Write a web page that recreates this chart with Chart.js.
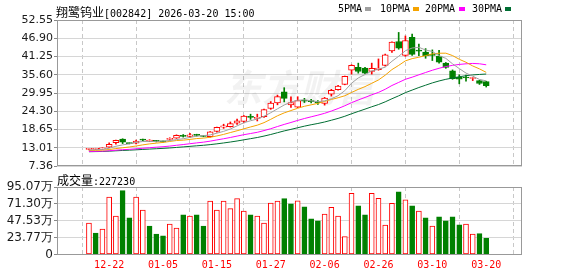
<!DOCTYPE html>
<html>
<head>
<meta charset="utf-8">
<script src="https://cdn.jsdelivr.net/npm/chart.js@4.4.1/dist/chart.umd.min.js"></script>
<style>
body { margin: 0; background: #fff; width: 578px; height: 276px; position: relative; overflow: hidden; }
canvas { position: absolute; left: 0; }
#kline { top: 0; }
#vol { top: 170px; }
.txt { position: absolute; white-space: nowrap; color: #000; z-index: 2; line-height: 12px; }
.cjk { font: 12px "Noto Sans CJK SC"; }
.mono { font: 10px "DejaVu Sans Mono"; }
.sq { position: absolute; width: 6px; height: 4px; top: 7px; z-index: 2; }
</style>
</head>
<body>
<div class="txt" style="left:56px;top:3px"><span class="cjk">翔鹭钨业</span><span class="mono">[002842] 2026-03-20 15:00</span></div>
<div class="txt mono" style="left:338px;top:3px">5PMA</div><div class="sq" style="left:365px;background:#a0a0a0"></div>
<div class="txt mono" style="left:380px;top:3px">10PMA</div><div class="sq" style="left:413px;background:#f5a300"></div>
<div class="txt mono" style="left:425px;top:3px">20PMA</div><div class="sq" style="left:459px;background:#ff00ff"></div>
<div class="txt mono" style="left:472px;top:3px">30PMA</div><div class="sq" style="left:505px;background:#006e33"></div>
<div class="txt" style="left:57px;top:171px"><span class="cjk">成交量</span><span class="mono">:227230</span></div>
<canvas id="kline" width="578" height="176"></canvas>
<canvas id="vol" width="578" height="106"></canvas>
<script>
// 日K数据 (60个交易日)
const dates = ['12-17','12-18','12-19','12-22','12-23','12-24','12-25','12-26','12-29','12-30',
    '12-31','01-05','01-06','01-07','01-08','01-09','01-12','01-13','01-14','01-15',
    '01-16','01-19','01-20','01-21','01-22','01-23','01-26','01-27','01-28','01-29',
    '01-30','02-02','02-03','02-04','02-05','02-06','02-09','02-10','02-11','02-12',
    '02-13','02-24','02-25','02-26','02-27','03-02','03-03','03-04','03-05','03-06',
    '03-09','03-10','03-11','03-12','03-13','03-16','03-17','03-18','03-19','03-20'];
const opens = [12.5,12.5,12.65,13.2,14.55,15.7,14.4,14.45,15.45,15.1,
    15.1,14.95,15.6,16.0,16.7,16.55,17.0,16.6,16.4,18.1,
    19.4,19.5,20.6,21.15,22.7,22.1,22.6,25.15,26.9,30.3,
    26.3,25.6,27.7,27.55,27.1,26.7,29.6,31.0,32.6,37.0,
    37.9,37.7,36.65,37.2,38.5,43.0,45.9,41.6,47.2,43.1,
    42.6,41.85,41.4,39.2,36.8,34.9,34.75,34.45,33.8,33.5];
const highs = [12.8,12.85,13.0,14.55,15.4,15.8,14.5,15.4,15.7,15.5,
    15.3,15.05,16.1,17.0,17.1,17.45,17.2,16.7,18.0,19.4,
    20.3,21.0,21.9,23.0,23.4,23.4,25.0,27.3,29.3,31.6,
    28.8,28.8,28.3,28.0,27.6,28.6,31.1,32.3,35.2,38.7,
    39.2,37.9,39.2,40.5,42.0,45.8,48.7,47.6,48.2,45.1,
    43.7,43.3,43.2,39.4,37.1,35.6,35.5,34.7,33.9,33.6];
const lows = [12.35,12.4,12.5,13.1,14.15,14.3,14.2,14.2,15.2,14.9,
    14.8,14.75,15.3,15.9,16.3,16.2,16.6,16.4,16.3,17.8,
    19.0,19.4,20.2,20.7,21.8,21.3,22.4,24.9,26.3,27.2,
    25.5,25.4,27.0,26.9,26.4,26.2,29.0,30.8,32.5,35.8,
    36.1,35.9,35.8,37.0,38.3,42.5,43.5,41.3,41.6,41.5,
    40.7,40.0,39.2,37.6,34.2,32.8,33.6,33.8,32.6,31.8];
const closes = [12.6,12.58,12.75,14.1,15.3,14.7,14.3,15.05,15.35,15.2,
    15.0,14.85,15.75,16.85,16.55,17.0,16.85,16.5,17.95,19.3,
    19.8,20.5,21.35,22.8,22.4,22.45,24.8,26.8,28.85,28.3,
    27.0,27.6,27.45,27.3,26.95,28.4,30.8,32.1,35.1,38.5,
    36.6,36.1,37.6,37.7,41.8,45.7,43.8,46.2,41.9,42.9,
    41.5,41.6,39.5,37.9,34.4,34.2,34.6,34.65,32.9,32.2];
// 成交量 (万)
const volumes = [44.2,30.1,35.8,80.9,54.1,89.9,51.8,80.9,62.6,40.0,
    28.7,26.4,42.8,37.2,56.0,54.1,56.0,40.0,75.3,62.6,
    75.3,64.5,78.6,61.2,56.0,54.1,44.2,72.5,75.3,78.6,
    71.5,75.5,67.1,50.3,47.5,56.9,66.6,54.1,25.2,86.2,
    68.5,55.9,86.2,79.2,41.5,72.2,88.1,76.9,68.5,61.0,
    51.7,40.1,53.1,47.5,53.1,41.9,42.9,28.9,29.4,22.72];
const ma5 = [12.3,12.4,12.5,12.85,13.47,13.89,14.22,14.69,14.94,14.92,
    14.98,15.09,15.23,15.53,15.8,16.2,16.6,16.75,16.97,17.52,
    18.08,18.81,19.78,20.75,21.37,21.9,22.76,23.85,25.06,26.24,
    27.15,27.71,27.84,27.53,27.26,27.54,28.18,29.11,30.67,32.98,
    34.62,35.68,36.78,37.3,37.96,39.78,41.32,43.04,43.88,44.1,
    43.26,42.82,41.48,40.68,38.98,37.52,36.12,35.15,34.15,33.71];
const ma10 = [12.15,12.2,12.28,12.45,12.75,13.0,13.25,13.55,13.9,14.2,
    14.44,14.66,14.96,15.24,15.36,15.59,15.85,15.99,16.25,16.66,
    17.14,17.71,18.27,18.86,19.45,20.0,20.78,21.81,22.9,23.8,
    24.52,25.23,25.84,26.29,26.75,27.35,27.95,28.48,29.1,30.12,
    31.08,31.93,32.95,33.99,35.47,37.2,38.5,39.91,40.59,41.03,
    41.52,42.07,42.26,42.28,41.54,40.39,39.47,38.32,37.42,36.35];
const ma20 = [11.85,11.9,11.95,12.07,12.25,12.4,12.52,12.68,12.85,13.02,
    13.18,13.33,13.52,13.77,14.0,14.26,14.51,14.74,15.05,15.43,
    15.79,16.19,16.62,17.05,17.41,17.79,18.32,18.9,19.58,20.23,
    20.83,21.47,22.06,22.58,23.1,23.67,24.37,25.15,26.0,26.96,
    27.8,28.58,29.4,30.14,31.11,32.28,33.23,34.2,34.85,35.58,
    36.3,37.0,37.61,38.14,38.51,38.8,38.99,39.11,39.0,38.68];
const ma30 = [11.78,11.82,11.86,11.95,12.07,12.17,12.26,12.37,12.49,12.6,
    12.71,12.82,12.95,13.11,13.27,13.44,13.61,13.77,13.98,14.22,
    14.49,14.78,15.1,15.46,15.82,16.18,16.62,17.11,17.67,18.22,
    18.7,19.2,19.69,20.13,20.52,20.98,21.53,22.09,22.75,23.53,
    24.25,24.96,25.69,26.38,27.22,28.18,29.08,30.07,30.86,31.65,
    32.37,33.08,33.68,34.19,34.59,34.98,35.31,35.56,35.7,35.83];
const priceTicks = [7.36, 13.01, 18.65, 24.30, 29.95, 35.60, 41.25, 46.90, 52.55];
const volTicks = [0, 23.77, 47.53, 71.30, 95.07];
const labelDates = ['12-22','01-05','01-15','01-27','02-06','02-26','03-10','03-20'];

const RED = '#ff0000', GREEN = '#008000';
const tickIdx = labelDates.map(d => dates.indexOf(d));
const up = dates.map((d, i) => closes[i] >= opens[i]);
const volUp = dates.map((d, i) => i === 0 || closes[i] >= closes[i - 1]);

const frame = {
    id: 'frame',
    afterDraw(chart) {
        const a = chart.chartArea, c = chart.ctx;
        c.save();
        c.strokeStyle = '#999';
        c.lineWidth = 1;
        c.strokeRect(Math.round(a.left) + 0.5, Math.round(a.top) + 0.5,
            Math.round(a.right - a.left) - 1, Math.round(a.bottom - a.top) - 1);
        c.restore();
    }
};
const watermark = {
    id: 'watermark',
    beforeDatasetsDraw(chart) {
        const c = chart.ctx;
        c.save();
        c.font = 'italic bold 38px "Noto Sans CJK SC"';
        c.fillStyle = 'rgba(0,0,0,0.05)';
        c.textAlign = 'center';
        c.textBaseline = 'middle';
        c.fillText('东方财富', 300, 88);
        c.restore();
    }
};

function xScale(showLabels) {
    return {
        type: 'linear', min: -0.43, max: 60.0,
        afterBuildTicks: s => { s.ticks = tickIdx.map(v => ({ value: v })); },
        afterFit: s => { s.height = showLabels ? 21.5 : 0; },
        grid: { color: '#c8c8c8', drawTicks: false },
        border: { display: false, dash: [4, 3] },
        ticks: {
            display: showLabels, color: RED, padding: 5, maxRotation: 0, autoSkip: false,
            font: { family: 'DejaVu Sans Mono', size: 10 },
            callback: v => dates[v]
        }
    };
}

///////////K线//////////////////////
const ct1 = document.getElementById('kline').getContext('2d');
const maLine = (arr, color) => ({
    type: 'line', data: arr.map((v, i) => ({ x: i, y: v })),
    borderColor: color, borderWidth: 1, pointRadius: 0, order: 1
});
new Chart(ct1, {
    type: 'bar',
    data: {
        datasets: [
            maLine(ma5, '#a0a0a0'),
            maLine(ma10, '#f5a300'),
            maLine(ma20, '#ff00ff'),
            maLine(ma30, '#006e33'),
            {
                data: dates.map((d, i) => ({ x: i, y: [opens[i], closes[i]] })),
                backgroundColor: up.map(u => u ? '#fff' : GREEN),
                borderColor: up.map(u => u ? RED : GREEN),
                borderWidth: 1, borderSkipped: false, barThickness: 6,
                minBarLength: 1, grouped: false, order: 2
            },
            {
                data: dates.map((d, i) => ({ x: i, y: [lows[i], highs[i]] })),
                backgroundColor: up.map(u => u ? RED : GREEN),
                borderWidth: 0, barThickness: 1, grouped: false, order: 3
            }
        ]
    },
    options: {
        responsive: false, animation: false,
        layout: { padding: { top: 20, bottom: 10, left: 0, right: 56 } },
        plugins: { legend: { display: false }, tooltip: { enabled: false } },
        scales: {
            x: xScale(false),
            y: {
                min: 7.36, max: 52.55,
                afterBuildTicks: s => { s.ticks = priceTicks.map(v => ({ value: v })); },
                afterFit: s => { s.width = 57; },
                grid: { color: '#d6d6d6', tickLength: 3, tickColor: '#888' },
                border: { display: false },
                ticks: {
                    color: '#1a1a1a', padding: 1, autoSkip: false,
                    font: { family: 'DejaVu Sans', size: 11 },
                    callback: v => v.toFixed(2)
                }
            }
        }
    },
    plugins: [watermark, frame]
});

///////////成交量//////////////////////
const ct2 = document.getElementById('vol').getContext('2d');
new Chart(ct2, {
    type: 'bar',
    data: {
        datasets: [{
            data: volumes.map((v, i) => ({ x: i, y: v })),
            backgroundColor: volUp.map(u => u ? '#fff' : GREEN),
            borderColor: volUp.map(u => u ? RED : GREEN),
            borderWidth: 1, borderSkipped: false, barThickness: 5
        }]
    },
    options: {
        responsive: false, animation: false,
        layout: { padding: { top: 17, bottom: 0, left: 0, right: 56 } },
        plugins: { legend: { display: false }, tooltip: { enabled: false } },
        scales: {
            x: xScale(true),
            y: {
                min: 0, max: 95.07,
                afterBuildTicks: s => { s.ticks = volTicks.map(v => ({ value: v })); },
                afterFit: s => { s.width = 57; },
                grid: { color: '#d6d6d6', tickLength: 3, tickColor: '#888' },
                border: { display: false },
                ticks: {
                    color: '#1a1a1a', padding: 1, autoSkip: false,
                    font: { family: 'DejaVu Sans', size: 12 },
                    callback: v => v === 0 ? '0' : v.toFixed(2) + '万'
                }
            }
        }
    },
    plugins: [frame]
});
</script>
</body>
</html>
